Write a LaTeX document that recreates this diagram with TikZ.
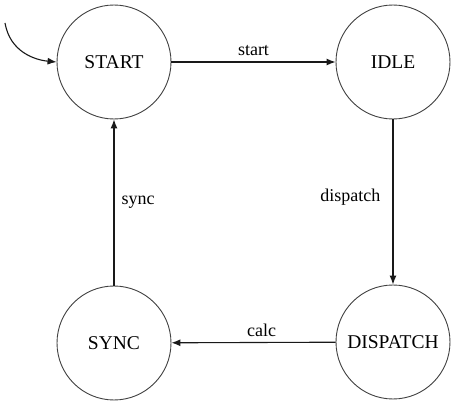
\documentclass[tikz,border=0pt]{standalone}
\usepackage{fontspec}
\setmainfont{Liberation Serif}
\usetikzlibrary{arrows.meta}
\begin{document}
\begin{tikzpicture}[x=1pt,y=-1pt,
  state/.style={circle,draw=black!75,line width=0.9pt,minimum size=114pt,inner sep=0pt,font=\fontsize{19.5}{22}\selectfont},
  trans/.style={draw=black!90,line width=1.1pt,-{Latex[length=9pt,width=7pt]}},
  lbl/.style={font=\fontsize{18}{21}\selectfont,inner sep=0pt}]
\useasboundingbox (0,0) rectangle (451,404);
\node[state] (start) at (114,62) {START};
\node[state] (idle) at (393,62) {IDLE};
\node[state] (disp) at (393,342) {DISPATCH};
\node[state] (sync) at (114,343) {SYNC};
\coordinate (init) at (5,23);
\draw[trans] (init) .. controls (10,52) and (35,60) .. (start.west);
\draw[trans] (start) -- node[lbl,above=6pt] {start} (idle);
\draw[trans] (idle) -- node[lbl,left=12pt,pos=0.47] {dispatch} (disp);
\draw[trans] (disp) -- node[lbl,above=5pt,pos=0.45] {calc} (sync);
\draw[trans] (sync) -- node[lbl,right=7pt] {sync} (start);
\end{tikzpicture}
\end{document}
